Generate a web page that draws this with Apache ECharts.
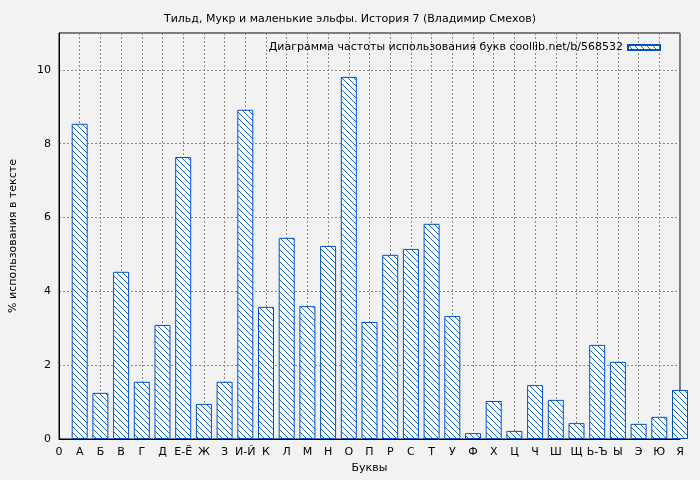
<!DOCTYPE html>
<html><head><meta charset="utf-8">
<script src="https://cdn.jsdelivr.net/npm/echarts@6/dist/echarts.min.js"></script>
<style>html,body{margin:0;background:#f2f2f2}#c{width:700px;height:480px}</style>
</head><body><div id="c"></div>
<script>
const categories=['0','А','Б','В','Г','Д','Е-Ё','Ж','З','И-Й','К','Л','М','Н','О','П','Р','С','Т','У','Ф','Х','Ц','Ч','Ш','Щ','Ь-Ъ','Ы','Э','Ю','Я'];
const values=[8.54,1.25,4.53,1.55,3.09,7.64,0.95,1.55,8.92,3.58,5.45,3.6,5.23,9.81,3.17,4.99,5.15,5.83,3.33,0.16,1.03,0.22,1.46,1.06,0.43,2.55,2.09,0.41,0.6,1.33];
const yTicks=[0,2,4,6,8,10];
const cv=document.createElement('canvas');cv.width=6;cv.height=6;
const g=cv.getContext('2d');g.fillStyle='#fff';g.fillRect(0,0,6,6);
g.strokeStyle='#0050c8';g.lineWidth=0.9;g.beginPath();
g.moveTo(0,0);g.lineTo(6,6);g.moveTo(-3,3);g.lineTo(3,9);g.moveTo(3,-3);g.lineTo(9,3);g.stroke();
const ch=echarts.init(document.getElementById('c'));
const F='DejaVu Sans';
ch.setOption({
backgroundColor:'#f2f2f2',animation:false,
textStyle:{fontFamily:F},
title:{text:'Тильд, Мукр и маленькие эльфы. История 7 (Владимир Смехов)',left:'center',top:9,textStyle:{fontSize:11,fontWeight:'normal',color:'#000',fontFamily:F}},
legend:{show:true,right:34,top:37,itemWidth:32,itemHeight:5,align:'right',textStyle:{fontSize:11,color:'#000',fontFamily:F},data:[{name:'Диаграмма частоты использования букв coollib.net/b/568532',icon:'rect'}]},
grid:{left:53,right:20,top:33,bottom:41,show:true,borderColor:'#000',borderWidth:1,backgroundColor:'#f2f2f2'},
xAxis:{type:'value',min:0,max:30,interval:1,name:'Буквы',nameLocation:'middle',nameGap:24,nameTextStyle:{fontSize:11,color:'#000'},
axisLine:{lineStyle:{color:'#000'}},axisTick:{show:false},
axisLabel:{color:'#000',fontSize:11,formatter:v=>categories[v]||''},
splitLine:{show:true,lineStyle:{color:'#888',type:[2,2]}}},
yAxis:{type:'value',min:0,max:11,interval:2,name:'% использования в тексте',nameLocation:'middle',nameGap:40,nameTextStyle:{fontSize:11,color:'#000'},
axisLine:{show:true,lineStyle:{color:'#000'}},axisTick:{show:false},
axisLabel:{color:'#000',fontSize:11,formatter:v=>yTicks.includes(v)?String(v):''},
splitLine:{show:true,lineStyle:{color:'#888',type:[2,2]}}},
series:[{type:'bar',name:'Диаграмма частоты использования букв coollib.net/b/568532',barWidth:16,clip:true,
itemStyle:{color:{image:cv,repeat:'repeat'},borderColor:'#0050c8',borderWidth:1},
data:values.map((v,i)=>[i+1,v])}]
});
</script></body></html>
